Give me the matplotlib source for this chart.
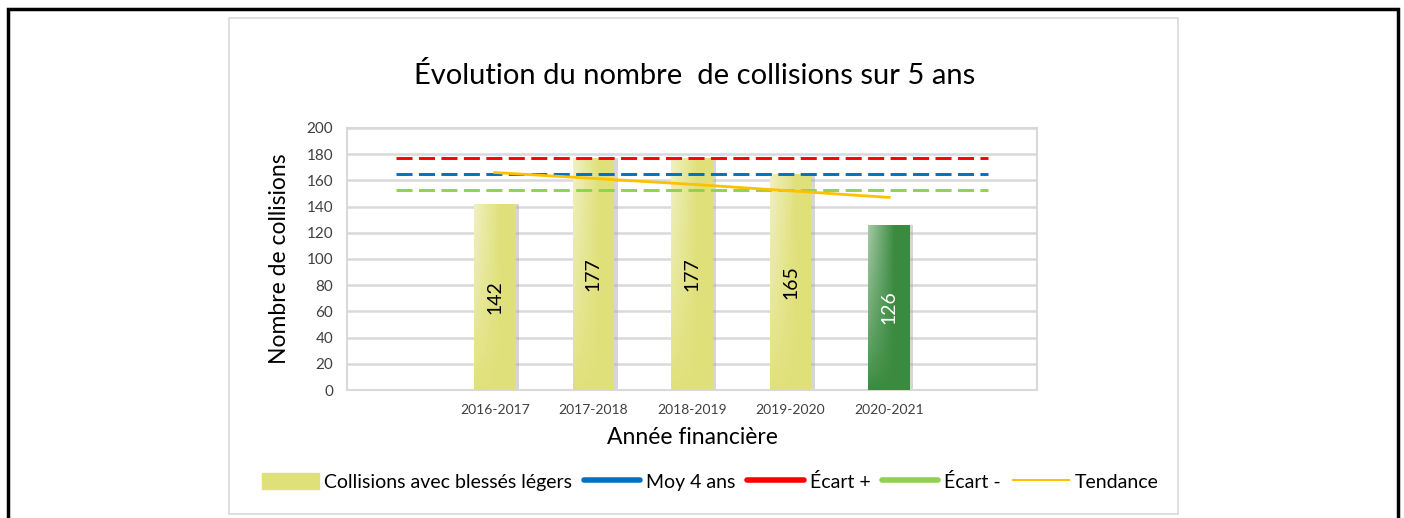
import numpy as np
import matplotlib
matplotlib.use("Agg")
from matplotlib import pyplot as plt
from matplotlib.patches import Rectangle
from matplotlib.lines import Line2D

# data
periods = ["", "2016-2017", "2017-2018", "2018-2019", "2019-2020", "2020-2021", ""]
collisions = [None, 142, 177, 177, 165, 126, None]
bar_colors = [None, "#E0E07A", "#E0E07A", "#E0E07A", "#E0E07A", "#3A8A3F", None]
label_colors = [None, "black", "black", "black", "black", "white", None]
moy_4_ans = 165
ecart_plus = 177
ecart_moins = 153
trend = [None, 166, 161.5, 157, 152, 147, None]


def main():
    plt.rcParams["font.family"] = ["Lato", "DejaVu Sans"]
    fig = plt.figure(figsize=(14.04, 5.18), dpi=100)
    fig.patch.set_facecolor("white")

    # outer black frame and inner grey chart border
    fig.add_artist(Rectangle((8 / 1404, -0.05), 1390 / 1404, 1.05 - 9 / 518,
                             transform=fig.transFigure, fill=False,
                             edgecolor="black", lw=2.5))
    fig.add_artist(Rectangle((229 / 1404, 4 / 518), 949 / 1404, 496 / 518,
                             transform=fig.transFigure, fill=False,
                             edgecolor="#D9D9D9", lw=1.2))

    ax = fig.add_axes([0.2471, 0.2471, 0.4915, 0.5058])
    x = np.arange(len(periods))

    # whitish sheen: fades to the right and towards the bottom
    h_ramp = np.linspace(0.55, 0, 60)
    v_ramp = np.linspace(0, 1, 80) ** 0.8
    alpha = v_ramp[:, None] * h_ramp[None, :]
    sheen = np.dstack([np.ones(alpha.shape + (3,)), alpha[..., None]])[::-1]

    for i, v in enumerate(collisions):
        if v is None:
            continue
        # soft shadow
        ax.bar(x[i] + 0.035, v, width=0.42, color="#A6A6A6", alpha=0.45, zorder=2)
        b = ax.bar(x[i], v, width=0.42, color=bar_colors[i], zorder=3)[0]
        img = ax.imshow(sheen, extent=[x[i] - 0.21, x[i] + 0.06, 0, v],
                        aspect="auto", zorder=4, interpolation="bilinear")
        img.set_clip_path(b)
        ax.text(x[i], v / 2, str(v), rotation=90, ha="center", va="center",
                fontsize=14, color=label_colors[i], zorder=5)

    ax.plot([x[0], x[-1]], [ecart_plus] * 2, color="#FF0000", lw=2.1,
            dashes=(5.5, 2.2), zorder=6)
    ax.plot([x[0], x[-1]], [moy_4_ans] * 2, color="#0070C0", lw=2.1,
            dashes=(5.5, 2.2), zorder=6)
    ax.plot([x[0], x[-1]], [ecart_moins] * 2, color="#92D050", lw=2.1,
            dashes=(5.5, 2.2), zorder=6)
    tx = [x[i] for i, t in enumerate(trend) if t is not None]
    ty = [t for t in trend if t is not None]
    ax.plot(tx, ty, color="#FFC000", lw=2, zorder=7)

    ax.set_xlim(-0.5, len(periods) - 0.5)
    ax.set_ylim(0, 200)
    ax.set_yticks(range(0, 201, 20))
    ax.set_xticks(x)
    ax.set_xticklabels(periods)
    ax.tick_params(axis="both", length=0, colors="#404040")
    ax.tick_params(axis="x", pad=10, labelsize=10)
    ax.tick_params(axis="y", pad=10, labelsize=11)
    ax.grid(axis="y", color="#D9D9D9", lw=1.8, zorder=0)
    ax.set_axisbelow(True)
    for s in ax.spines.values():
        s.set_color("#D9D9D9")
        s.set_linewidth(1.5)

    ax.set_ylabel("Nombre de collisions", fontsize=16.5, color="black", labelpad=12)
    ax.set_xlabel("Année financière", fontsize=16.5, color="black", labelpad=8)

    fig.text(0.495, 0.855, "Évolution du nombre  de collisions sur 5 ans",
             ha="center", va="center", fontsize=21, color="black")

    handles = [
        Rectangle((0, 0), 1, 1, color="#E0E07A"),
        Line2D([], [], color="#0070C0", lw=4, solid_capstyle="round"),
        Line2D([], [], color="#FF0000", lw=4, solid_capstyle="round"),
        Line2D([], [], color="#92D050", lw=4, solid_capstyle="round"),
        Line2D([], [], color="#FFC000", lw=1.5),
    ]
    labels = ["Collisions avec blessés légers", "Moy 4 ans", "Écart +",
              "Écart -", "Tendance"]
    fig.legend(handles, labels, loc="center", bbox_to_anchor=(0.506, 0.07),
               ncol=5, frameon=False, fontsize=14, handlelength=2.9,
               handleheight=0.9, handletextpad=0.3, columnspacing=0.6)

    fig.savefig("out.png", dpi=100)


if __name__ == "__main__":
    main()
